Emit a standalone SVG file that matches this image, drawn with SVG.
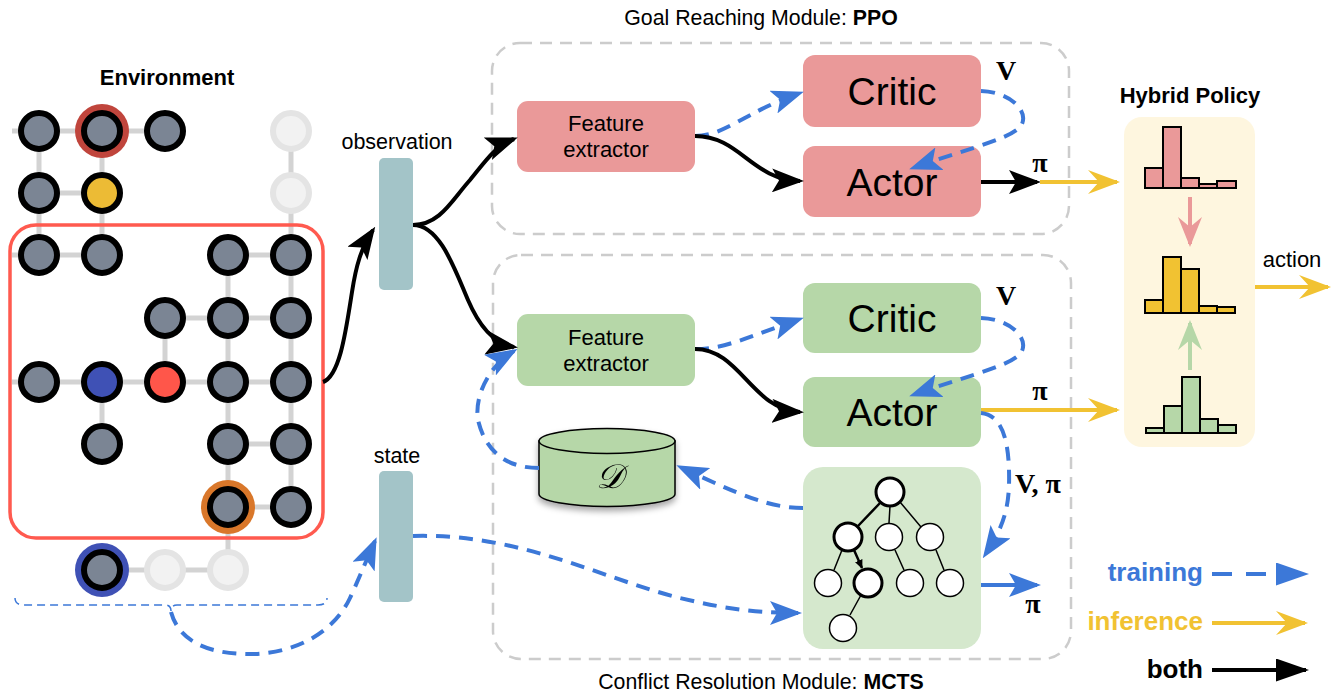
<svg xmlns="http://www.w3.org/2000/svg" width="1341" height="696" viewBox="0 0 1341 696">
<style>
.sans{font-family:"Liberation Sans",Arial,sans-serif;fill:#000}
.bold{font-weight:bold}
.math{font-family:"Liberation Serif","Times New Roman",serif;font-weight:bold;font-size:28px;fill:#000}
.edge{stroke:#d3d3d3;stroke-width:5;fill:none}
.gn{fill:#7b8594;stroke:#000;stroke-width:6}
.fn{fill:#f2f2f2;stroke:#e4e4e4;stroke-width:6}
.blue{stroke:#3c78d8;stroke-width:4;fill:none;stroke-dasharray:14 9}
.black{stroke:#000;stroke-width:4;fill:none}
.yellow{stroke:#f1c232;stroke-width:4;fill:none}
.mod{fill:none;stroke:#cccccc;stroke-width:2.5;stroke-dasharray:12 8}
.pink{fill:#ea9999}
.green{fill:#b6d7a8}
.big{font-size:39px;text-anchor:middle}
.fe{font-size:22px;text-anchor:middle}
.hist{stroke:#000;stroke-width:2}
.tn{fill:#fff;stroke:#000;stroke-width:1.5}
.tnb{fill:#fff;stroke:#000;stroke-width:3}
.tl{stroke:#000;stroke-width:1.5;fill:none}
</style>
<defs>
<marker id="ab" markerUnits="userSpaceOnUse" markerWidth="32" markerHeight="24" refX="28" refY="12" orient="auto"><path d="M0,0 L32,12 L0,24 L7,12 z" fill="#3c78d8"/></marker>
<marker id="ak" markerUnits="userSpaceOnUse" markerWidth="32" markerHeight="24" refX="28" refY="12" orient="auto"><path d="M0,0 L32,12 L0,24 L7,12 z" fill="#000"/></marker>
<marker id="ay" markerUnits="userSpaceOnUse" markerWidth="32" markerHeight="24" refX="29" refY="12" orient="auto"><path d="M0,0 L32,12 L0,24 L11,12 z" fill="#f1c232"/></marker>
<marker id="ap" markerUnits="userSpaceOnUse" markerWidth="30" markerHeight="24" refX="27" refY="12" orient="auto"><path d="M0,0 L30,12 L0,24 L10,12 z" fill="#ea9999"/></marker>
<marker id="ag" markerUnits="userSpaceOnUse" markerWidth="30" markerHeight="24" refX="27" refY="12" orient="auto"><path d="M0,0 L30,12 L0,24 L10,12 z" fill="#b6d7a8"/></marker>
<marker id="as" markerUnits="userSpaceOnUse" markerWidth="9" markerHeight="8" refX="8" refY="4" orient="auto"><path d="M0,0 L9,4 L0,8 z" fill="#000"/></marker>
<marker id="lb" markerUnits="userSpaceOnUse" markerWidth="33" markerHeight="23" refX="30" refY="11.5" orient="auto"><path d="M0,0 L33,11.5 L0,23 z" fill="#3c78d8"/></marker>
<marker id="lk" markerUnits="userSpaceOnUse" markerWidth="33" markerHeight="23" refX="30" refY="11.5" orient="auto"><path d="M0,0 L33,11.5 L0,23 z" fill="#000"/></marker>
<filter id="shadow" x="-20%" y="-20%" width="140%" height="160%"><feDropShadow dx="0" dy="4" stdDeviation="3" flood-color="#000" flood-opacity="0.35"/></filter>
</defs>
<rect width="1341" height="696" fill="#fff"/>

<!-- Environment -->
<g id="environment">
<text class="sans bold" x="167" y="85" font-size="22" text-anchor="middle">Environment</text>
<g id="grid-edges">
<path class="edge" d="M12,131 H165 M39,131 V255 M102,131 V255 M39,193 H102 M12,255 H102 M228,255 H291 M291,131 V318 M228,255 V318 M165,318 H291 M165,318 V382 M228,318 V570 M291,318 V507 M12,382 H291 M102,382 V444 M228,444 H291 M228,507 H291 M102,570 H228"/>
</g>
<rect x="10" y="225" width="313" height="313" rx="26" fill="none" stroke="#ff5a4f" stroke-width="3.5"/>
<circle cx="102" cy="131" r="27" fill="#c0453c"/>
<circle cx="228" cy="507" r="27" fill="#d9772a"/>
<circle cx="102" cy="570" r="27" fill="#3f51b5"/>
<g id="grid-nodes">
<circle class="gn" cx="39" cy="131" r="18"/>
<circle class="gn" cx="102" cy="131" r="18"/>
<circle class="gn" cx="165" cy="131" r="18"/>
<circle class="fn" cx="291" cy="131" r="18"/>
<circle class="gn" cx="39" cy="193" r="18"/>
<circle class="gn" cx="102" cy="193" r="18" style="fill:#ecbb35"/>
<circle class="fn" cx="291" cy="193" r="18"/>
<circle class="gn" cx="39" cy="255" r="18"/>
<circle class="gn" cx="102" cy="255" r="18"/>
<circle class="gn" cx="228" cy="255" r="18"/>
<circle class="gn" cx="291" cy="255" r="18"/>
<circle class="gn" cx="165" cy="318" r="18"/>
<circle class="gn" cx="228" cy="318" r="18"/>
<circle class="gn" cx="291" cy="318" r="18"/>
<circle class="gn" cx="39" cy="382" r="18"/>
<circle class="gn" cx="102" cy="382" r="18" style="fill:#3f51b5"/>
<circle class="gn" cx="165" cy="382" r="18" style="fill:#ff564a"/>
<circle class="gn" cx="228" cy="382" r="18"/>
<circle class="gn" cx="291" cy="382" r="18"/>
<circle class="gn" cx="102" cy="444" r="18"/>
<circle class="gn" cx="228" cy="444" r="18"/>
<circle class="gn" cx="291" cy="444" r="18"/>
<circle class="gn" cx="228" cy="507" r="18"/>
<circle class="gn" cx="291" cy="507" r="18"/>
<circle class="gn" cx="102" cy="570" r="18"/>
<circle class="fn" cx="165" cy="570" r="18"/>
<circle class="fn" cx="228" cy="570" r="18"/>
</g>
<path d="M15,598 Q15,605 24,605 H165 Q171,605 171,611 Q171,605 177,605 H318 Q327,605 327,598" fill="none" stroke="#3c78d8" stroke-width="1.5" stroke-dasharray="8 5"/>
</g>

<!-- Observation / state -->
<g id="observation">
<text class="sans" x="397" y="149" font-size="21.5" text-anchor="middle">observation</text>
<rect x="379" y="158" width="34" height="132" rx="5" fill="#a3c4c8"/>
</g>
<g id="state">
<text class="sans" x="397" y="463" font-size="21.5" text-anchor="middle">state</text>
<rect x="379" y="471" width="34" height="131" rx="5" fill="#a3c4c8"/>
</g>

<!-- Module frames -->
<g id="goal-module">
<rect class="mod" x="492" y="43" width="577" height="191" rx="28"/>
<text class="sans" x="761" y="25" font-size="21.3" text-anchor="middle">Goal Reaching Module: <tspan class="bold">PPO</tspan></text>
</g>
<g id="conflict-module">
<rect class="mod" x="493" y="255" width="578" height="404" rx="28"/>
<text class="sans" x="761" y="689" font-size="21.3" text-anchor="middle">Conflict Resolution Module: <tspan class="bold">MCTS</tspan></text>
</g>

<!-- Top module nodes -->
<g id="fe-top">
<rect x="517" y="101" width="178" height="71" rx="11" class="pink"/>
<text class="sans fe" x="606" y="131">Feature</text>
<text class="sans fe" x="606" y="157">extractor</text>
</g>
<g id="critic-top">
<rect x="803" y="55" width="178" height="72" rx="12" class="pink"/>
<text class="sans big" x="892" y="105">Critic</text>
</g>
<g id="actor-top">
<rect x="803" y="146" width="178" height="71" rx="12" class="pink"/>
<text class="sans big" x="892" y="196">Actor</text>
</g>

<!-- Bottom module nodes -->
<g id="fe-bottom">
<rect x="517" y="314" width="178" height="72" rx="11" class="green"/>
<text class="sans fe" x="606" y="345">Feature</text>
<text class="sans fe" x="606" y="371">extractor</text>
</g>
<g id="critic-bottom">
<rect x="803" y="283" width="178" height="70" rx="12" class="green"/>
<text class="sans big" x="892" y="332">Critic</text>
</g>
<g id="actor-bottom">
<rect x="803" y="377" width="178" height="70" rx="12" class="green"/>
<text class="sans big" x="892" y="426">Actor</text>
</g>
<g id="database" filter="url(#shadow)">
<path d="M539,441 V494 A68,12.5 0 0 0 675,494 V441 z" fill="#b6d7a8" stroke="#000" stroke-width="1.5"/>
<ellipse cx="607" cy="441" rx="68" ry="12.5" fill="#b6d7a8" stroke="#000" stroke-width="1.5"/>
<text x="609" y="488" font-family="DejaVu Serif, DejaVu Sans, serif" font-style="italic" font-size="34" text-anchor="middle" fill="#000">𝒟</text>
</g>
<g id="mcts">
<rect x="803" y="467" width="178" height="182" rx="20" fill="#d5e8cd"/>
<path class="tl" d="M890,506 L889,523 M900,502 L921,527 M842,550 L834,570 M895,550 L904,570 M936,550 L944,570 M861,595 L850,615"/>
<path d="M880,503 L858,526 M854,550 L862,568" stroke="#000" stroke-width="2.5" fill="none" marker-end="url(#as)"/>
<circle class="tnb" cx="890" cy="492" r="14"/>
<circle class="tnb" cx="848" cy="537" r="14"/>
<circle class="tn" cx="889" cy="537" r="13.5"/>
<circle class="tn" cx="930" cy="537" r="13.5"/>
<circle class="tn" cx="828" cy="583" r="13.5"/>
<circle class="tnb" cx="868" cy="583" r="14"/>
<circle class="tn" cx="910" cy="583" r="13.5"/>
<circle class="tn" cx="950" cy="583" r="13.5"/>
<circle class="tn" cx="843" cy="628" r="13.5"/>
</g>

<!-- Hybrid policy -->
<g id="hybrid-policy">
<text class="sans bold" x="1190" y="103" font-size="22" text-anchor="middle">Hybrid Policy</text>
<rect x="1124" y="117" width="131" height="330" rx="18" fill="#fef6df"/>
<g class="hist" fill="#ea9999">
<rect x="1145" y="168" width="18" height="20"/>
<rect x="1163" y="127" width="18" height="61"/>
<rect x="1181" y="178" width="18" height="10"/>
<rect x="1199" y="184" width="18" height="4"/>
<rect x="1217" y="181" width="19" height="7"/>
</g>
<g class="hist" fill="#f1c232">
<rect x="1145" y="300" width="18" height="13"/>
<rect x="1163" y="257" width="18" height="56"/>
<rect x="1181" y="269" width="18" height="44"/>
<rect x="1199" y="306" width="18" height="7"/>
<rect x="1217" y="307" width="18" height="6"/>
</g>
<g class="hist" fill="#b6d7a8">
<rect x="1146" y="428" width="18" height="5"/>
<rect x="1164" y="406" width="18" height="27"/>
<rect x="1182" y="377" width="18" height="56"/>
<rect x="1200" y="419" width="18" height="14"/>
<rect x="1218" y="425" width="18" height="8"/>
</g>
<path d="M1190,197 V244" stroke="#ea9999" stroke-width="4" marker-end="url(#ap)"/>
<path d="M1190,370 V323" stroke="#b6d7a8" stroke-width="4" marker-end="url(#ag)"/>
</g>

<!-- Connectors -->
<g id="connectors">
<path class="black" d="M323,382 C340,376 346,330 352,292 C356,266 361,248 373,230" marker-end="url(#ak)"/>
<path class="black" d="M413,225 C440,225 452,200 470,180 C485,162 495,146 514,139" marker-end="url(#ak)"/>
<path class="black" d="M413,225 C440,225 455,270 468,300 C480,328 495,344 514,347" marker-end="url(#ak)"/>
<path class="blue" d="M695,136 C725,136 745,112 800,93" marker-end="url(#ab)"/>
<path class="black" d="M695,136 C740,136 752,180 800,181" marker-end="url(#ak)"/>
<path class="blue" d="M981,91 C1010,92 1028,110 1022,124 C1015,138 975,146 913,168" marker-end="url(#ab)"/>
<path class="black" d="M981,182 H1037" marker-end="url(#ak)"/>
<path class="yellow" d="M1040,182 H1117" marker-end="url(#ay)"/>
<path class="blue" d="M695,349 C725,349 745,338 800,319" marker-end="url(#ab)"/>
<path class="black" d="M695,349 C740,349 752,410 800,412" marker-end="url(#ak)"/>
<path class="blue" d="M981,318 C1010,319 1028,337 1022,351 C1015,365 975,373 913,395" marker-end="url(#ab)"/>
<path class="yellow" d="M981,410 H1117" marker-end="url(#ay)"/>
<path class="yellow" d="M1255,287 H1328" marker-end="url(#ay)"/>
<path class="blue" d="M981,413 C1000,415 1008,435 1009,470 C1010,505 1005,525 985,555" marker-end="url(#ab)"/>
<path d="M981,585 H1037" stroke="#3c78d8" stroke-width="4" fill="none" marker-end="url(#ab)"/>
<path class="blue" d="M803,508 C770,508 740,495 680,467" marker-end="url(#ab)"/>
<path class="blue" d="M539,468 C505,468 485,450 478,420 C474,395 490,365 514,351" marker-end="url(#ab)"/>
<path class="blue" d="M413,536 C520,533 600,578 680,598 C730,610 760,613 798,613" marker-end="url(#ab)"/>
<path class="blue" d="M171,612 C180,645 215,655 255,654 C300,652 335,630 350,598 C357,583 363,568 375,541" marker-end="url(#ab)"/>
</g>

<!-- Math labels -->
<g id="labels">
<text class="math" x="1006" y="80" text-anchor="middle">V</text>
<text class="math" x="1040" y="172" text-anchor="middle">π</text>
<text class="math" x="1006" y="305" text-anchor="middle">V</text>
<text class="math" x="1040" y="400" text-anchor="middle">π</text>
<text class="math" x="1015" y="493">V, π</text>
<text class="math" x="1033" y="613" text-anchor="middle">π</text>
<text class="sans" x="1292" y="267" font-size="22" text-anchor="middle">action</text>
</g>

<!-- Legend -->
<g id="legend">
<text class="sans bold" x="1203" y="581" font-size="26" text-anchor="end" style="fill:#3c78d8">training</text>
<path d="M1212,574 H1306" stroke="#3c78d8" stroke-width="4" stroke-dasharray="20 14" fill="none" marker-end="url(#lb)"/>
<text class="sans bold" x="1203" y="630" font-size="26" text-anchor="end" style="fill:#f1c232">inference</text>
<path d="M1212,623 H1305" stroke="#f1c232" stroke-width="4" fill="none" marker-end="url(#ay)"/>
<text class="sans bold" x="1203" y="678" font-size="26" text-anchor="end">both</text>
<path d="M1212,670 H1306" stroke="#000" stroke-width="4" fill="none" marker-end="url(#lk)"/>
</g>
</svg>
